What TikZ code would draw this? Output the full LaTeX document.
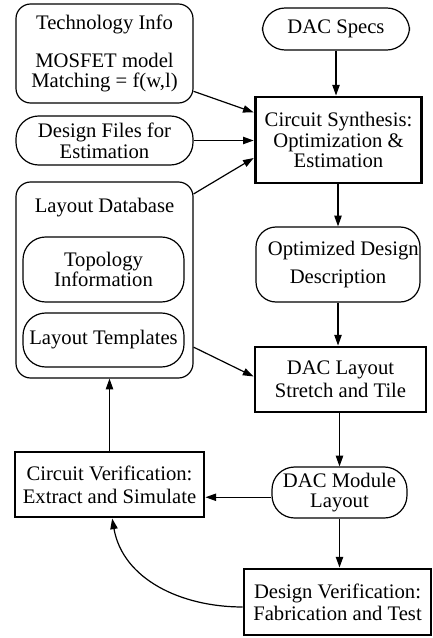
\documentclass[tikz,border=0pt]{standalone}
\usepackage{fontspec}
\setmainfont{Liberation Serif}[Ligatures=TeX]
\newfontfamily\flowfont{Liberation Serif}
\usetikzlibrary{arrows.meta, positioning}
\tikzset{
  roundbox/.style={draw, line width=0.9pt, rounded corners=11pt, align=center, inner sep=0pt},
  pillbox/.style={roundbox, rounded corners=17pt}
}
\tikzset{
  stepbox/.style={draw, line width=2.2pt, align=center, inner sep=0pt},
  flow/.style={->, line width=0.9pt}
}

\begin{document}
\begin{tikzpicture}[x=0.75pt, y=-0.75pt, >={Triangle[length=8pt,width=5.5pt]},
    font=\flowfont\fontsize{15.5}{15.5}\selectfont]
  \useasboundingbox (0,0) rectangle (432,638);
  % inputs on the left
  \node[roundbox, minimum width=132.75pt, minimum height=74.25pt] (tech) at (104.5,53.5)
    {Technology Info\\[13pt] MOSFET model\\ Matching = f(w,l)};
  \node[pillbox, minimum width=132.75pt, minimum height=36.75pt] (dfiles) at (104.5,140.5)
    {Design Files for\\ Estimation};
  \node[roundbox, minimum width=132.75pt, minimum height=147pt] (laydb) at (104.5,280) {};
  \node (laydbtitle) at (104.5,208) {Layout Database};
  \node[pillbox, minimum width=120.75pt, minimum height=48.75pt] (topo) at (103.5,269.5)
    {Topology\\ Information};
  \node[pillbox, minimum width=120.75pt, minimum height=40.5pt] (templ) at (103.5,340)
    {Layout Templates};
  % main flow on the right
  \node[pillbox, minimum width=110.25pt, minimum height=31.5pt] (specs) at (336,29) {DAC Specs};
  \node[stepbox, minimum width=125pt, minimum height=64.5pt] (synth) at (338.5,140)
    {Circuit Synthesis:\\ Optimization \&\\ Estimation};
  \node[roundbox, rounded corners=15pt, minimum width=123pt, minimum height=56.25pt] (optim) at (338,264.5)
    {\hspace*{8pt}Optimized Design\\[6pt] Description};
  \node[stepbox, minimum width=128.25pt, minimum height=48.75pt] (dlayout) at (340.5,379.5)
    {DAC Layout\\[2pt] Stretch and Tile};
  \node[pillbox, minimum width=101.25pt, minimum height=38.25pt] (module) at (339.5,492.5)
    {DAC Module\\ Layout};
  \node[stepbox, minimum width=140.25pt, minimum height=49.5pt] (dverif) at (337.5,602)
    {Design Verification:\\[1pt] Fabrication and Test};
  \node[stepbox, minimum width=141.75pt, minimum height=48.75pt] (cverif) at (109.5,484.5)
    {Circuit Verification:\\[2pt] Extract and Simulate};

  % connectors
  \draw[flow] (specs.south) -- (specs.south |- synth.north);
  \draw[flow] (tech.-23) -- (synth.162);
  \draw[flow] (dfiles.east) -- (dfiles.east -| synth.west);
  \draw[flow] (laydb.44) -- (synth.192);
  \draw[flow] (synth.south -| optim.north) -- (optim.north);
  \draw[flow] (optim.south) -- (optim.south |- dlayout.north);
  \draw[flow] (laydb.-37.5) -- (dlayout.178);
  \draw[flow] (module.north |- dlayout.south) -- (module.north);
  \draw[flow] (module.south) -- (module.south |- dverif.north);
  \draw[flow] (module.184) -- (module.184 -| cverif.east);
  \draw[flow] (cverif.north) -- (cverif.north |- laydb.south);
  \draw[flow] (dverif.183) to[out=180, in=-80] ([xshift=2pt]cverif.south);
\end{tikzpicture}
\end{document}
